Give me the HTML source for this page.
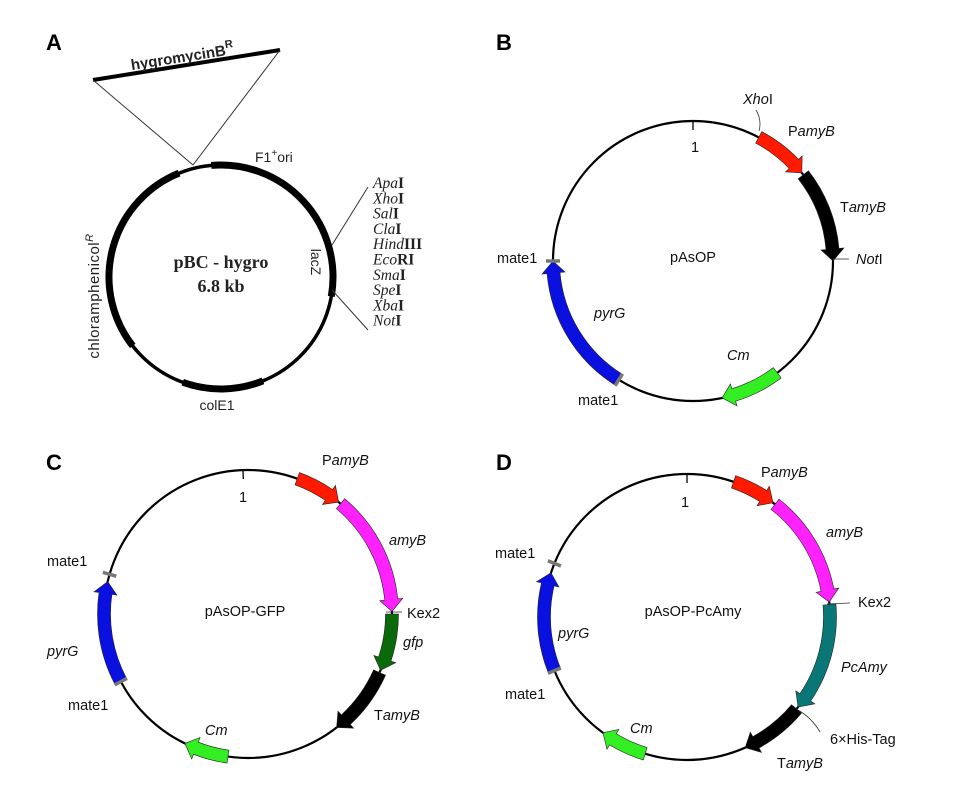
<!DOCTYPE html>
<html><head><meta charset="utf-8">
<style>
html,body{margin:0;padding:0;background:#fff;}
svg{display:block;font-family:"Liberation Sans",sans-serif;}
.lbl{font-size:14.5px;fill:#111;}
.it{font-style:italic;}
.letter{font-size:22px;font-weight:bold;fill:#000;}
.serif{font-family:"Liberation Serif",serif;}
</style></head>
<body>
<svg id="fig" width="965" height="792" viewBox="0 0 965 792">
  <text class="letter" x="46" y="50">A</text>
  <text class="letter" x="496" y="50">B</text>
  <text class="letter" x="46" y="470">C</text>
  <text class="letter" x="496" y="470">D</text>

  <g id="panelA">
    <circle cx="221" cy="277" r="112" fill="none" stroke="#000" stroke-width="3.5"/>
    <path id="a-thick1" fill="none" stroke="#000" stroke-width="7"/>
    <path id="a-thick2" fill="none" stroke="#000" stroke-width="7"/>
    <path id="a-thick3" fill="none" stroke="#000" stroke-width="7"/>
    <line x1="93" y1="80" x2="280" y2="50" stroke="#000" stroke-width="4"/>
    <line x1="93" y1="80" x2="193" y2="165" stroke="#333" stroke-width="1"/>
    <line x1="280" y1="50" x2="193" y2="165" stroke="#333" stroke-width="1"/>
    <text x="183" y="62" text-anchor="middle" transform="rotate(-9 183 62)" style="font-size:15px;font-weight:bold;fill:#222">hygromycinB<tspan dy="-7" font-size="11">R</tspan></text>
    <text x="255" y="162" style="font-size:14px;fill:#222">F1<tspan dy="-6" font-size="10">+</tspan><tspan dy="6">ori</tspan></text>
    <text x="217" y="410" text-anchor="middle" style="font-size:14px;fill:#222">colE1</text>
    <text x="0" y="0" text-anchor="middle" transform="translate(99 296) rotate(-90)" style="font-size:15px;fill:#222;letter-spacing:0.5px">chloramphenicol<tspan dy="-6" font-size="11" font-style="italic">R</tspan></text>
    <text x="0" y="0" text-anchor="middle" transform="translate(311 262) rotate(90)" style="font-size:14px;fill:#222">lacZ</text>
    <text class="serif" x="221" y="268" text-anchor="middle" style="font-size:18px;font-weight:bold;fill:#222">pBC - hygro</text>
    <text class="serif" x="221" y="292" text-anchor="middle" style="font-size:18px;font-weight:bold;fill:#222">6.8 kb</text>
    <line x1="368" y1="187" x2="332" y2="245" stroke="#333" stroke-width="1"/>
    <line x1="332" y1="290" x2="368" y2="330" stroke="#333" stroke-width="1"/>
    <g id="mcs" class="serif" style="font-size:15.5px;font-weight:bold;fill:#222"></g>
  </g>

  <g id="panelB"></g>
  <g id="panelC"></g>
  <g id="panelD"></g>
</svg>
<script>
var NS="http://www.w3.org/2000/svg";
function pt(cx,cy,r,a){var t=a*Math.PI/180;return [cx+r*Math.sin(t),cy-r*Math.cos(t)];}
function arcD(cx,cy,r,a1,a2){var p=pt(cx,cy,r,a1),q=pt(cx,cy,r,a2);var large=Math.abs(a2-a1)>180?1:0;var sw=a2>a1?1:0;return "M"+p[0]+" "+p[1]+" A"+r+" "+r+" 0 "+large+" "+sw+" "+q[0]+" "+q[1];}
function arrowD(cx,cy,r,a1,a2,w,hw,hlPx){
  var dir=a2>a1?1:-1;var hl=hlPx/r*180/Math.PI;var b=a2-dir*hl;
  var ro=r+w/2,ri=r-w/2,ho=r+hw/2,hi=r-hw/2;
  var p1=pt(cx,cy,ro,a1),p2=pt(cx,cy,ro,b),h1=pt(cx,cy,ho,b),tip=pt(cx,cy,r,a2),h2=pt(cx,cy,hi,b),p3=pt(cx,cy,ri,b),p4=pt(cx,cy,ri,a1);
  var sw=dir>0?1:0,sw2=dir>0?0:1;
  return "M"+p1+" A"+ro+" "+ro+" 0 0 "+sw+" "+p2+" L"+h1+" L"+tip+" L"+h2+" L"+p3+" A"+ri+" "+ri+" 0 0 "+sw2+" "+p4+" Z";
}
function el(tag,attrs,parent){var e=document.createElementNS(NS,tag);for(var k in attrs)e.setAttribute(k,attrs[k]);parent.appendChild(e);return e;}

document.getElementById('a-thick1').setAttribute('d',arcD(221,277,112,-5,100));
document.getElementById('a-thick2').setAttribute('d',arcD(221,277,112,158,200));
document.getElementById('a-thick3').setAttribute('d',arcD(221,277,112,232,338));
var mcsNames=["Apa","Xho","Sal","Cla","Hind","Eco","Sma","Spe","Xba","Not"];
var mcsSuffix=["I","I","I","I","III","RI","I","I","I","I"];
var mcs=document.getElementById('mcs');
for(var i=0;i<mcsNames.length;i++){
  var t=el('text',{x:373,y:188+i*15.3},mcs);
  
  
  var s=el('tspan',{'font-style':'italic','font-weight':'normal'},t);s.textContent=mcsNames[i];
  var s2=el('tspan',{},t);s2.textContent=mcsSuffix[i];
}

var B_names=["PamyB","TamyB","Cm","pyrG"];
var B_start=[28,52,143,212];
var B_end=[51,90,168,270];
var B_colors=["#ff1a00","#000000","#33ee22","#0a10e0"];
var C_names=["PamyB","amyB","gfp","TamyB","Cm","pyrG"];
var C_start=[20,40,90,114,188,242];
var C_end=[39,89,113,142,206,283];
var C_colors=["#ff1a00","#ff22ff","#0a6a0a","#000000","#33ee22","#0a10e0"];
var D_names=["PamyB","amyB","PcAmy","TamyB","Cm","pyrG"];
var D_start=[19,38,85,130,197,248];
var D_end=[37,84,129,156,216,288];
var D_colors=["#ff1a00","#ff22ff","#0a7777","#000000","#33ee22","#0a10e0"];

function drawMap(g,cx,cy,r,names,st,en,cols,marks,tickA){
  var c=el('circle',{cx:cx,cy:cy,r:r,fill:'none',stroke:'#000','stroke-width':2.2},g);
  
  
  var p0=pt(cx,cy,r,tickA),p1=pt(cx,cy,r-9,tickA);
  var tk=el('line',{x1:p0[0],y1:p0[1],x2:p1[0],y2:p1[1],stroke:'#000','stroke-width':1.3},g);
  
  
  for(var i=0;i<names.length;i++){
    var a=el('path',{d:arrowD(cx,cy,r,st[i],en[i],13,23,12),fill:cols[i],stroke:'#222','stroke-width':0.6},g);
    
    
  }
  for(var j=0;j<marks.length;j++){
    var q0=pt(cx,cy,r-7,marks[j]),q1=pt(cx,cy,r+7,marks[j]);
    var m=el('line',{x1:q0[0],y1:q0[1],x2:q1[0],y2:q1[1],stroke:'#777','stroke-width':3.5},g);
    
    
  }
}
function label(g,x,y,txt,name,italic,anchor){
  var t=el('text',{x:x,y:y,'class':'lbl'+(italic?' it':''),'text-anchor':anchor||'start'},g);
  
  
  t.innerHTML=txt;return t;
}
var gB=document.getElementById('panelB');
drawMap(gB,693,261,140,B_names,B_start,B_end,B_colors,[212,270],0);
label(gB,695,152,"1","origin-label",false,"middle");
label(gB,693,262,"pAsOP","plasmid-name",false,"middle");
label(gB,743,104,"<tspan font-style='italic'>Xho</tspan>I","xhoi-label");
var xl=el('path',{d:"M759 131 Q762 120 756 110",fill:'none',stroke:'#333','stroke-width':0.8},gB);


label(gB,788,136,"P<tspan font-style='italic'>amyB</tspan>","pamyb-label");
label(gB,840,212,"T<tspan font-style='italic'>amyB</tspan>","tamyb-label");
label(gB,856,264,"<tspan font-style='italic'>Not</tspan>I","noti-label");
var nl=el('line',{x1:833,y1:259,x2:849,y2:259,stroke:'#333','stroke-width':0.8},gB);


label(gB,727,360,"Cm","cm-label",true);
label(gB,594,318,"pyrG","pyrg-label",true);
label(gB,497,263,"mate1","mate1-top-label");
label(gB,578,405,"mate1","mate1-bottom-label");

var gC=document.getElementById('panelC');
drawMap(gC,248,614,144,C_names,C_start,C_end,C_colors,[242,286],-2);
label(gC,243,502,"1","origin-label",false,"middle");
label(gC,245,616,"pAsOP-GFP","plasmid-name",false,"middle");
label(gC,322,465,"P<tspan font-style='italic'>amyB</tspan>","pamyb-label");
label(gC,389,545,"amyB","amyb-label",true);
label(gC,407,618,"Kex2","kex2-label");
var kl=el('line',{x1:386,y1:612,x2:402,y2:612,stroke:'#333','stroke-width':0.8},gC);


label(gC,403,647,"gfp","gfp-label",true);
label(gC,374,720,"T<tspan font-style='italic'>amyB</tspan>","tamyb-label");
label(gC,205,735,"Cm","cm-label",true);
label(gC,47,656,"pyrG","pyrg-label",true);
label(gC,47,566,"mate1","mate1-top-label");
label(gC,68,710,"mate1","mate1-bottom-label");

var gD=document.getElementById('panelD');
drawMap(gD,687,617,143,D_names,D_start,D_end,D_colors,[248,292],0);
label(gD,685,507,"1","origin-label",false,"middle");
label(gD,693,616,"pAsOP-PcAmy","plasmid-name",false,"middle");
label(gD,761,477,"P<tspan font-style='italic'>amyB</tspan>","pamyb-label");
label(gD,826,537,"amyB","amyb-label",true);
label(gD,858,607,"Kex2","kex2-label");
var kl2=el('line',{x1:827,y1:604,x2:850,y2:603,stroke:'#333','stroke-width':0.8},gD);


label(gD,841,672,"PcAmy","pcamy-label",true);
label(gD,830,744,"6×His-Tag","his-tag-label");
var hl=el('path',{d:"M798 710 Q812 718 820 732",fill:'none',stroke:'#333','stroke-width':0.8},gD);


label(gD,777,768,"T<tspan font-style='italic'>amyB</tspan>","tamyb-label");
label(gD,630,733,"Cm","cm-label",true);
label(gD,558,638,"pyrG","pyrg-label",true);
label(gD,495,558,"mate1","mate1-top-label");
label(gD,505,699,"mate1","mate1-bottom-label");
</script>
</body></html>
